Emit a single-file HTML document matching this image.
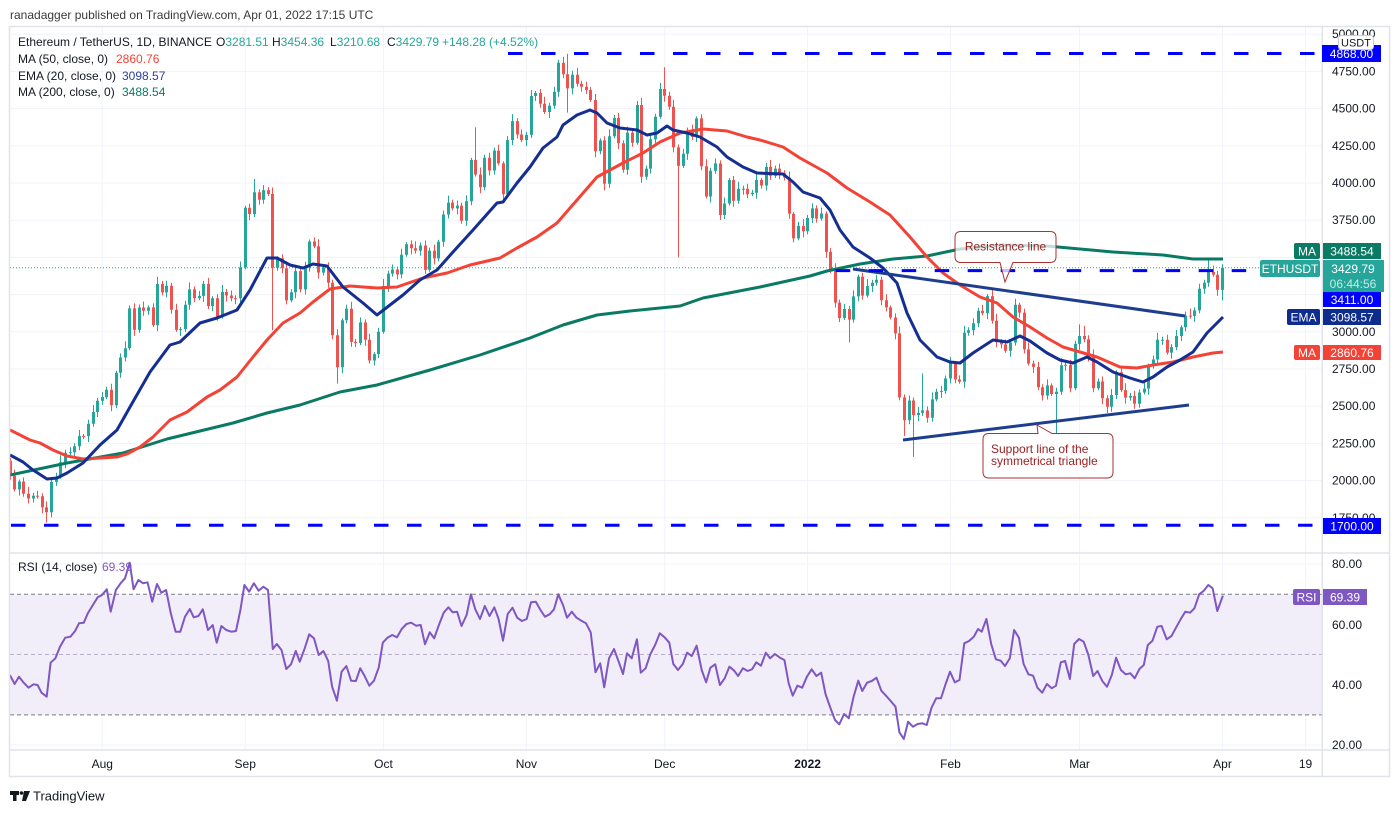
<!DOCTYPE html>
<html><head><meta charset="utf-8"><title>ETHUSDT</title>
<style>html,body{margin:0;padding:0;background:#fff;overflow:hidden}svg{display:block}</style>
</head><body>
<svg xmlns="http://www.w3.org/2000/svg" width="1400" height="813" viewBox="0 0 1400 813" font-family="'Liberation Sans', Arial, sans-serif">
<defs>
<clipPath id="cm"><rect x="10" y="27" width="1312" height="526"/></clipPath>
<clipPath id="cr"><rect x="10" y="554" width="1312" height="196"/></clipPath>
</defs>
<rect width="1400" height="813" fill="#fff"/>
<text x="10" y="19" font-size="12" fill="#3a3a3a">ranadagger published on TradingView.com, Apr 01, 2022 17:15 UTC</text>

<!-- grid -->
<g stroke="#f0f3fa" stroke-width="1">
<line x1="10" x2="1322" y1="34.2" y2="34.2"/><line x1="10" x2="1322" y1="71.4" y2="71.4"/>
<line x1="10" x2="1322" y1="108.6" y2="108.6"/><line x1="10" x2="1322" y1="145.8" y2="145.8"/>
<line x1="10" x2="1322" y1="183" y2="183"/><line x1="10" x2="1322" y1="220.2" y2="220.2"/>
<line x1="10" x2="1322" y1="257.4" y2="257.4"/><line x1="10" x2="1322" y1="294.6" y2="294.6"/>
<line x1="10" x2="1322" y1="331.8" y2="331.8"/><line x1="10" x2="1322" y1="369" y2="369"/>
<line x1="10" x2="1322" y1="406.2" y2="406.2"/><line x1="10" x2="1322" y1="443.4" y2="443.4"/>
<line x1="10" x2="1322" y1="480.6" y2="480.6"/><line x1="10" x2="1322" y1="517.8" y2="517.8"/>
<line x1="10" x2="1322" y1="564" y2="564"/><line x1="10" x2="1322" y1="624.4" y2="624.4"/>
<line x1="10" x2="1322" y1="684.7" y2="684.7"/><line x1="10" x2="1322" y1="745" y2="745"/>
<line x1="102.3" x2="102.3" y1="27" y2="750"/><line x1="245.2" x2="245.2" y1="27" y2="750"/>
<line x1="383.5" x2="383.5" y1="27" y2="750"/><line x1="526.4" x2="526.4" y1="27" y2="750"/>
<line x1="664.7" x2="664.7" y1="27" y2="750"/><line x1="807.6" x2="807.6" y1="27" y2="750"/>
<line x1="950.5" x2="950.5" y1="27" y2="750"/><line x1="1079.6" x2="1079.6" y1="27" y2="750"/>
<line x1="1222.5" x2="1222.5" y1="27" y2="750"/><line x1="1305.5" x2="1305.5" y1="27" y2="750"/>
</g>

<!-- RSI pane -->
<g clip-path="url(#cr)">
<rect x="10" y="594.3" width="1312" height="120.6" fill="#f2eef9"/>
<line x1="10" x2="1322" y1="594.3" y2="594.3" stroke="#787b86" stroke-dasharray="4 3"/>
<line x1="10" x2="1322" y1="654.5" y2="654.5" stroke="#b8b0c8" stroke-dasharray="4 3"/>
<line x1="10" x2="1322" y1="714.9" y2="714.9" stroke="#787b86" stroke-dasharray="4 3"/>
<polyline fill="none" stroke="#7e57c2" stroke-width="2" stroke-linejoin="round" points="9.9,675 14.6,684 19,676.7 23.7,682.7 28.5,687.7 33.6,684.3 37.6,685 41.5,692.7 46.7,696.7 50.6,662.7 55.4,658.3 60,646.7 65.2,637.7 70.4,636.7 75.1,631 79,623.3 83.8,622.7 87.8,613.3 92.9,605 97.7,597.3 102,595 106.8,589.3 110.7,611.7 115.9,590 120.6,583.3 125,578.3 129.7,562.7 133.6,589.3 138.4,580 143.1,583.3 147.5,582.3 152.2,601.7 157,584 161.3,592.7 166.1,590 170.8,613.3 175.6,631.7 180.3,631.7 185,616.7 189.8,609 193.7,617.3 198.5,616 202.8,609.3 208,630 212.7,625 216.7,642.7 221.4,626 226.2,630 231.3,631.7 236,631 240.4,610 244.4,585 249.1,591.7 253.9,583.3 258.6,590.7 263.3,586.7 268,590 272.8,649 276.8,644 281.5,650 286.3,669 291,664.3 295.8,651 299.7,661.7 304.5,649 309.2,634.3 314,638.3 318.7,655 323.4,651 328.2,661 332.1,686.7 336.9,700.7 341.6,671.7 346.4,666 351.1,680.7 355.9,681 360.2,668.3 364.6,676 369.3,685.7 374,680.7 378.8,667.3 382.8,642.7 387.5,637.7 392.2,635 397,637.3 401.7,629 406.5,624 411.2,622.7 416,625.7 420.7,625 425,644.3 429.8,632.3 434.2,638.3 438.9,625 443.7,612.7 448.4,607.3 452.7,612.3 457.1,611.7 461.5,626 466.6,615 470.9,594.3 475.3,609.3 480,619 484.8,606 489.5,616 494.3,607.3 498.6,619 503,640.7 507.7,614 512.5,607.7 517.2,617.7 521.9,621 526.7,619 531,602.3 535.8,601.7 540.5,610 544.9,616.7 549.6,614.3 554,609.3 558.3,594.3 563,605 567,617.7 571.8,611.7 576.5,617.7 581.3,620.7 586,623.3 590.7,632.3 595.5,672.3 600.2,663.3 604.2,687.3 609,658.3 614,649 618.7,661.7 623,674 627,653.3 631.7,658.3 636.9,639.3 640.8,672.7 645.6,668.3 650.3,654.3 655.1,645 659.8,633.3 664.6,637.3 669.3,642.7 673.3,664 678,670 682.8,664 687.1,652.7 691.8,656 696.6,645.7 701.7,670 706.1,682.3 710.4,667.7 715.2,664.3 719.9,685 724.7,678.3 729.4,666.7 734.2,670.7 738.1,676 742.9,668.3 747.6,671 752,669.3 756.3,662.3 761,665.7 765.8,652.7 770.1,658.3 774.9,654 780,657.7 784.4,660 788.7,683.3 792.7,695.7 797.4,685.7 802.2,687.7 806.9,676.7 811.7,669.3 816.4,676 821.2,672.7 825.5,694 830.2,707.3 835,720 839.3,724.3 844.1,714 848.8,718.3 853.6,696.7 858.3,680.7 862.3,691 867,682.7 871.8,681 876.5,677.7 881.3,690.7 886,695.7 890.7,701 895.5,706.7 899.4,732.3 903.8,739 908.1,721.7 912.9,726.7 917.6,724 922.4,723.3 926.7,725 931.5,707.7 936.2,698.3 941,698.3 945.3,685 950,671.7 954.8,682.3 959.5,680 964.3,643.3 969,641 973.8,636.7 978.1,629 981.7,631.7 986.4,619 991.2,644 995.9,659.3 1000.7,660.7 1005,666 1009.8,658.3 1014.1,630 1018.9,637.7 1023.6,664 1028.4,674.3 1033.1,675.7 1037.4,687.7 1042.2,692.7 1046.9,684 1051.7,688.3 1056,685.7 1060.8,662.3 1065.1,661 1069.9,679 1074.2,644 1079,639 1083.7,641.7 1088.4,655 1093.2,676 1097.5,671 1102.3,681 1107,686.7 1111.8,675 1116.1,657.7 1120.9,670 1125.6,674.3 1130.4,673.3 1134.7,678.3 1139.4,669 1143.8,665 1147.8,645 1152.5,640.7 1157.3,626.7 1161.6,626 1166.7,639.3 1171.5,636 1176.2,627.3 1180.6,619.3 1185.3,611.7 1190.1,612.7 1194.4,608.3 1199.2,594.3 1203.9,590.7 1208.3,585 1212.6,588.3 1217.3,611 1222.9,595.7"/>
</g>

<!-- main pane -->
<g clip-path="url(#cm)">
<line x1="10" x2="1262" y1="267.8" y2="267.8" stroke="#26a69a" stroke-width="1" stroke-dasharray="1 2"/>

<!-- green candles -->
<path fill="none" stroke="#26a69a" stroke-width="1" d="M19.5 479.5V495.5M33.5 492.8V502.5M51.5 479.9V517.3M56.5 472.7V485.9M60.5 455.3V478.7M65.5 449.8V468.3M70.5 447.2V456.2M74.5 443.2V457.2M79.5 430V450.2M88.5 419.8V442.1M93.5 405V426.8M97.5 397.7V417M102.5 392.1V404.7M106.5 386.8V399.1M116.5 370.7V408.2M120.5 353.5V377.7M125.5 341.2V361.5M129.5 305.4V350.2M139.5 304.5V332.9M148.5 305.4V314.7M157.5 276.9V331.1M166.5 280.7V297.4M180.5 327V336M185.5 300.7V332M189.5 282.4V309.7M199.5 290.9V300.3M203.5 280.9V301.9M212.5 296.3V311.1M222.5 284.9V318.8M240.5 261.4V302.3M245.5 205.7V269.4M254.5 179V217.1M263.5 185.1V203.8M277.5 256.3V270.7M291.5 289.2V302.4M295.5 266.1V298.2M305.5 261.8V294.4M309.5 239.5V271.8M323.5 264.4V275.6M342.5 318.3V373.2M346.5 304.7V323.3M360.5 317.4V345M374.5 352.1V365.5M378.5 327.7V358.1M383.5 279V333.7M388.5 270.6V292M392.5 264.5V276.6M401.5 248.7V278.4M406.5 242.3V256.7M420.5 242.5V255.6M429.5 247.6V271.9M438.5 239.8V261.4M443.5 210.5V246.8M448.5 195.6V218.5M457.5 200.6V214.4M466.5 195.2V225.8M471.5 157.9V205.2M484.5 154.7V190.3M494.5 147.6V174.5M507.5 136.1V197.3M512.5 114.1V145.1M526.5 131.9V146.1M531.5 90V137.9M535.5 91V101M549.5 102.8V118M554.5 86.8V108.8M558.5 59.8V96.8M572.5 70.8V94.4M600.5 138.4V154.2M609.5 129.3V187.7M614.5 115V138.3M627.5 126.6V174.8M637.5 101V144.7M646.5 165.6V179.8M650.5 134.2V173.6M655.5 113.8V143.2M660.5 83V118.8M683.5 148.8V167.9M687.5 127.6V159.8M696.5 116.4V142M710.5 167.8V202.5M715.5 158.4V173.8M724.5 197.5V219M729.5 178V205.5M738.5 181.8V203.7M743.5 185.7V194.7M752.5 189.8V196.3M756.5 173.9V198.8M766.5 162.9V190.5M775.5 165.6V177.9M798.5 221.9V240.4M807.5 215V234.2M812.5 203.4V223M821.5 207.5V220.6M844.5 304V320.1M853.5 290.4V322.6M858.5 274.6V301.4M867.5 279.1V297.6M872.5 279.7V292.1M876.5 274.7V285.7M909.5 395.5V424.3M918.5 406.9V421.1M922.5 373.5V415.9M932.5 392.4V421.7M936.5 388.8V401.4M941.5 385.9V397.9M945.5 375.5V393.9M950.5 356.9V383.5M964.5 325.7V387.8M968.5 327.2V335.7M973.5 318.2V335.2M978.5 307.7V327.2M987.5 294.1V319.3M1010.5 339.5V356.7M1015.5 298.7V345.5M1047.5 379.4V399.5M1056.5 387.8V436M1061.5 358.3V394.8M1065.5 361.8V370.8M1075.5 340.9V390.3M1079.5 324.4V349.9M1098.5 378.5V390.3M1111.5 389V411.8M1116.5 370.3V399M1130.5 392.9V400.6M1139.5 389.5V407.7M1144.5 382.6V394.5M1148.5 363.6V394.6M1153.5 355.5V368.6M1157.5 332.8V364.5M1162.5 336.8V344.8M1171.5 344.1V358.6M1176.5 330V350.1M1181.5 325.2V341M1185.5 311.6V331.2M1194.5 307.4V321.9M1199.5 283.8V313.4M1204.5 279.8V293.8M1208.5 260.1V286.8M1222.5 264.2V300.4"/>
<path fill="none" stroke="#26a69a" stroke-width="3" d="M19.5 481.5V489.5M33.5 495.8V498.5M51.5 481.9V512.3M56.5 476.7V481.9M60.5 462.3V476.7M65.5 452.8V462.3M70.5 452.2V453.2M74.5 446.2V452.2M79.5 436V446.2M88.5 423.8V436.1M93.5 412V423.8M97.5 400.7V412M102.5 397.1V400.7M106.5 389.8V397.1M116.5 372.7V405.2M120.5 357.5V372.7M125.5 348.2V357.5M129.5 308.4V348.2M139.5 307.5V329.9M148.5 307.4V310.7M157.5 283.9V325.1M166.5 285.7V292.4M180.5 329V330M185.5 304.7V329M189.5 289.4V304.7M199.5 295.9V298.3M203.5 283.9V295.9M212.5 298.3V306.1M222.5 291.9V316.8M240.5 267.4V298.3M245.5 207.7V267.4M254.5 192.2V214.1M263.5 190.1V199.8M277.5 258.3V267.7M291.5 292.2V300.4M295.5 271.1V292.2M305.5 267.8V289.4M309.5 241.5V267.8M323.5 267.4V272.6M342.5 320.3V367.2M346.5 308.7V320.3M360.5 322.4V343M374.5 354.1V360.5M378.5 331.7V354.1M383.5 286V331.7M388.5 273.6V286M392.5 269.5V273.6M401.5 254.7V274.4M406.5 244.3V254.7M420.5 245.5V250.6M429.5 250.6V269.9M438.5 241.8V258.4M443.5 214.5V241.8M448.5 202.6V214.5M457.5 205.6V208.4M466.5 201.2V220.8M471.5 159.9V201.2M484.5 157.7V187.3M494.5 150.6V170.5M507.5 140.1V194.3M512.5 121.1V140.1M526.5 134.9V140.1M531.5 96V134.9M535.5 93V96M549.5 105.8V112M554.5 91.8V105.8M558.5 62.8V91.8M572.5 74.8V88.4M600.5 140.4V151.2M609.5 136.3V183.7M614.5 118V136.3M627.5 132.6V169.8M637.5 105V142.7M646.5 168.6V176.8M650.5 139.2V168.6M655.5 116.8V139.2M660.5 89V116.8M683.5 153.8V165.9M687.5 130.6V153.8M696.5 118.4V137M710.5 170.8V196.5M715.5 163.4V170.8M724.5 203.5V215M729.5 180V203.5M738.5 188.8V200.7M743.5 188.7V189.7M752.5 192.8V194.3M756.5 179.9V192.8M766.5 166.9V185.5M775.5 168.6V175.9M798.5 225.9V238.4M807.5 218V231.2M812.5 208.4V218M821.5 213.5V218.6M844.5 309V318.1M853.5 296.4V319.6M858.5 276.6V296.4M867.5 286.1V295.6M872.5 282.7V286.1M876.5 279.7V282.7M909.5 400.5V420.3M918.5 412.9V415.1M922.5 410.4V412.9M932.5 399.4V417.7M936.5 391.8V399.4M941.5 390.9V391.9M945.5 378.5V390.9M950.5 362.9V378.5M964.5 332.7V381.8M968.5 330.2V332.7M973.5 323.2V330.2M978.5 310.7V323.2M987.5 296.1V313.3M1010.5 342.5V350.7M1015.5 304.7V342.5M1047.5 385.4V395.5M1056.5 391.8V394M1061.5 365.3V391.8M1065.5 364.8V365.8M1075.5 343.9V388.3M1079.5 336V343.9M1098.5 381.5V388.3M1111.5 395V406.8M1116.5 372.3V395M1130.5 395.9V397.6M1139.5 392.5V403.7M1144.5 388.6V392.5M1148.5 365.6V388.6M1153.5 359.5V365.6M1157.5 339.8V359.5M1162.5 339.8V340.8M1171.5 347.1V352.6M1176.5 336V347.1M1181.5 327.2V336M1185.5 315.6V327.2M1194.5 310.4V315.9M1199.5 288.8V310.4M1204.5 282.8V288.8M1208.5 272V282.8M1222.5 267.8V289.9"/>

<!-- red candles -->
<path fill="none" stroke="#ef5350" stroke-width="1" d="M10.5 457.7V479.8M14.5 469.8V491.5M23.5 477.5V496.7M28.5 486.7V503.5M37.5 490.8V498.8M42.5 493.2V513.4M46.5 501.4V522.6M83.5 434V439M111.5 383.8V411.2M134.5 303.4V335.9M143.5 301.5V315.7M153.5 303.4V327.1M162.5 280.9V295.4M171.5 282.7V313.8M176.5 303.8V331.9M194.5 286.4V302.3M208.5 277.9V309.1M217.5 294.3V320.8M226.5 288.9V301.5M231.5 290.5V301.2M235.5 295.2V304.2M249.5 203.7V220.1M259.5 189.2V204.8M268.5 187.1V195.9M272.5 187.5V330.3M282.5 254.3V273.3M286.5 261.3V304.4M300.5 268.1V292.4M314.5 237.5V248.2M318.5 239.2V278.6M328.5 262.4V287.7M332.5 279.7V339.2M337.5 329.2V383.6M351.5 301.7V346.9M355.5 338.9V347M365.5 319.4V345.7M369.5 333.7V363.5M397.5 266.5V279.4M411.5 240.3V254.3M415.5 241.3V253.6M425.5 240.5V273.9M434.5 244.6V264.4M452.5 199.6V210.4M461.5 202.6V223.8M475.5 127.2V176.5M480.5 167.5V193.3M489.5 152.7V175.5M498.5 144.6V165.4M503.5 161.4V200.3M517.5 118.1V138.5M521.5 129.5V142.1M540.5 89V107.7M544.5 96.7V114M563.5 56.8V78.2M567.5 53.8V112.6M577.5 67.8V86.8M581.5 80.8V91.7M586.5 81.7V94M590.5 87V102M595.5 94V157.2M604.5 136.4V190.4M618.5 113V149.3M623.5 140.3V172.8M632.5 130.6V146.7M641.5 98V182.8M664.5 67.2V101.7M669.5 91.7V109.7M673.5 99.7V152.4M678.5 144.4V257.4M692.5 124.6V140M701.5 114.4V170.3M706.5 159.3V198.5M720.5 160.4V220M733.5 176V206.7M747.5 183.7V198.3M761.5 177.9V188.5M770.5 159.9V179.9M779.5 163.6V179.3M784.5 170.3V180.5M789.5 171.5V218.8M793.5 211.8V242.4M803.5 218.9V237.2M816.5 205.4V222.6M826.5 211.5V257.9M830.5 247.9V273.2M835.5 263.2V307.6M839.5 299.6V322.1M849.5 306V342.5M862.5 272.6V299.6M881.5 276.7V305.3M886.5 294.3V311.4M890.5 305.4V319.5M895.5 313.5V339.4M899.5 326.4V400.4M904.5 394.4V436M913.5 397.5V456.9M927.5 406.4V422.7M955.5 360.9V383.4M959.5 375.4V383.8M982.5 304.7V315.3M992.5 290.1V323.8M996.5 313.8V347.1M1001.5 339.1V348.4M1005.5 339.4V352.7M1019.5 302.7V317.6M1024.5 308.6V353.4M1028.5 342.4V365.6M1033.5 360.6V372.9M1038.5 361.9V390.2M1042.5 384.2V400.5M1051.5 383.4V396M1070.5 359.8V392.3M1084.5 326V342.2M1088.5 335.2V361.5M1093.5 349.5V392.3M1102.5 376.5V404.2M1107.5 395.2V413M1121.5 368.3V392.1M1125.5 383.1V403.6M1134.5 390.9V408.7M1167.5 334.8V354.6M1190.5 308.6V318.6M1213.5 265.6V276.7M1217.5 270.7V295.8"/>
<path fill="none" stroke="#ef5350" stroke-width="3" d="M10.5 460.7V475.8M14.5 475.8V489.5M23.5 481.5V493.7M28.5 493.7V498.5M37.5 495.8V496.8M42.5 496.2V507.4M46.5 507.4V512.3M83.5 436V437M111.5 389.8V405.2M134.5 308.4V329.9M143.5 307.5V310.7M153.5 307.4V325.1M162.5 283.9V292.4M171.5 285.7V309.8M176.5 309.8V329.9M194.5 289.4V298.3M208.5 283.9V306.1M217.5 298.3V316.8M226.5 291.9V295.5M231.5 295.5V298.2M235.5 298.2V299.2M249.5 207.7V214.1M259.5 192.2V199.8M268.5 190.1V193.9M272.5 193.9V267.7M282.5 258.3V268.3M286.5 268.3V300.4M300.5 271.1V289.4M314.5 241.5V246.2M318.5 246.2V272.6M328.5 267.4V282.7M332.5 282.7V335.2M337.5 335.2V367.2M351.5 308.7V341.9M355.5 341.9V343M365.5 322.4V339.7M369.5 339.7V360.5M397.5 269.5V274.4M411.5 244.3V248.3M415.5 248.3V250.6M425.5 245.5V269.9M434.5 250.6V258.4M452.5 202.6V208.4M461.5 205.6V220.8M475.5 159.9V174.5M480.5 174.5V187.3M489.5 157.7V170.5M498.5 150.6V163.4M503.5 163.4V194.3M517.5 121.1V134.5M521.5 134.5V140.1M540.5 93V103.7M544.5 103.7V112M563.5 62.8V74.2M567.5 74.2V88.4M577.5 74.8V83.8M581.5 83.8V86.7M586.5 86.7V90M590.5 90V100M595.5 100V151.2M604.5 140.4V183.7M618.5 118V143.3M623.5 143.3V169.8M632.5 132.6V142.7M641.5 105V176.8M664.5 89V95.7M669.5 95.7V106.7M673.5 106.7V147.4M678.5 147.4V165.9M692.5 130.6V137M701.5 118.4V166.3M706.5 166.3V196.5M720.5 163.4V215M733.5 180V200.7M747.5 188.7V194.3M761.5 179.9V185.5M770.5 166.9V175.9M779.5 168.6V173.3M784.5 173.3V177.5M789.5 177.5V213.8M793.5 213.8V238.4M803.5 225.9V231.2M816.5 208.4V218.6M826.5 213.5V251.9M830.5 251.9V270.2M835.5 270.2V302.6M839.5 302.6V318.1M849.5 309V319.6M862.5 276.6V295.6M881.5 279.7V300.3M886.5 300.3V307.4M890.5 307.4V317.5M895.5 317.5V333.4M899.5 333.4V397.4M904.5 397.4V420.3M913.5 400.5V415.1M927.5 410.4V417.7M955.5 362.9V379.4M959.5 379.4V381.8M982.5 310.7V313.3M992.5 296.1V320.8M996.5 320.8V342.1M1001.5 342.1V344.4M1005.5 344.4V350.7M1019.5 304.7V312.6M1024.5 312.6V349.4M1028.5 349.4V363.6M1033.5 363.6V366.9M1038.5 366.9V387.2M1042.5 387.2V395.5M1051.5 385.4V394M1070.5 364.8V388.3M1084.5 336V339.2M1088.5 339.2V356.5M1093.5 356.5V388.3M1102.5 381.5V398.2M1107.5 398.2V406.8M1121.5 372.3V390.1M1125.5 390.1V397.6M1134.5 395.9V403.7M1167.5 339.8V352.6M1190.5 315.6V316.6M1213.5 272V274.7M1217.5 274.7V289.8"/>

<polyline fill="none" stroke="#0b7a65" stroke-width="3" stroke-linejoin="round" points="10,475 67,463 123,453 167,439 233,423 267,413 300,405 340,392 377,385 430,370 480,355 530,338 563,325 597,315 630,311 680,306 703,298 760,287 810,276 827,271 860,264 893,259 927,256 960,249 1000,245 1047,246 1113,252 1163,255 1193,259 1223,259"/>
<polyline fill="none" stroke="#f44336" stroke-width="3" stroke-linejoin="round" points="10,430 30,440 40,443 53,450 67,456 83,459 100,458 117,457 127,454 140,447 153,437 170,420 187,412 207,397 220,390 237,377 253,357 267,340 283,323 300,313 313,302 330,289 350,286 377,288 397,287 423,278 447,273 470,265 500,258 517,248 537,237 557,223 577,200 597,177 623,163 643,153 660,142 680,133 703,129 727,131 747,137 760,140 783,147 800,158 827,173 847,188 870,202 890,215 910,237 927,257 943,273 960,285 980,297 997,303 1013,317 1030,327 1047,338 1063,347 1080,352 1097,357 1120,367 1137,368 1153,365 1173,362 1193,357 1213,353 1223,352"/>
<polyline fill="none" stroke="#142e91" stroke-width="3" stroke-linejoin="round" points="10,455 23,462 33,470 47,479 57,478 67,473 83,463 100,445 117,430 130,407 150,372 170,345 180,342 200,323 217,318 237,310 250,290 267,258 277,258 290,265 303,268 313,264 327,266 343,287 363,303 377,315 390,305 403,295 420,280 437,270 453,252 473,230 497,203 503,202 517,183 530,167 543,148 557,137 563,125 577,115 590,110 597,113 607,123 620,128 637,130 647,135 657,133 667,126 673,130 687,133 700,137 717,147 727,157 743,167 757,173 783,174 793,182 803,192 820,198 830,210 840,230 853,247 870,258 883,268 897,283 907,313 920,340 937,357 950,362 960,363 973,353 993,340 1007,342 1020,336 1030,341 1047,353 1060,360 1073,363 1087,357 1097,362 1113,372 1130,378 1143,382 1153,377 1167,367 1180,360 1193,352 1207,333 1223,317"/>
<line x1="853" y1="269" x2="1185" y2="316" stroke="#1d3d8f" stroke-width="3"/>
<line x1="903" y1="440" x2="1189" y2="405" stroke="#1d3d8f" stroke-width="3"/>
<line x1="508" x2="1322" y1="53.5" y2="53.5" stroke="#0000ff" stroke-width="3" stroke-dasharray="14.5 18.5"/>
<line x1="835.7" x2="1262" y1="270.6" y2="270.6" stroke="#0000ff" stroke-width="3" stroke-dasharray="14.5 18.5"/>
<line x1="11" x2="1322" y1="525.2" y2="525.2" stroke="#0000ff" stroke-width="3" stroke-dasharray="14.5 18.5"/>
<!-- callouts -->
<path d="M961,231.5 H1050 Q1056,231.5 1056,237.5 V256.5 Q1056,262.5 1050,262.5 H1013 L1005,282 L1000,262.5 H961 Q955,262.5 955,256.5 V237.5 Q955,231.5 961,231.5 Z" fill="#fff" fill-opacity="0.75" stroke="#a83232" stroke-width="1"/>
<text x="1005.5" y="250.5" font-size="12" fill="#9a2121" text-anchor="middle">Resistance line</text>
<path d="M989,433.5 H1038 L1037,425 L1052,433.5 H1107 Q1113,433.5 1113,439.5 V472 Q1113,478 1107,478 H989 Q983,478 983,472 V439.5 Q983,433.5 989,433.5 Z" fill="#fff" stroke="#a83232" stroke-width="1"/>
<text x="991" y="453" font-size="12" fill="#9a2121">Support line of the</text>
<text x="991" y="465" font-size="12" fill="#9a2121">symmetrical triangle</text>
</g>

<!-- frame / separators -->
<rect x="9.5" y="26.5" width="1380" height="750" fill="none" stroke="#e0e3eb" stroke-width="1.5"/>
<line x1="1322.3" x2="1322.3" y1="27" y2="777" stroke="#e0e3eb" stroke-width="1.5"/>
<line x1="10" x2="1390" y1="553" y2="553" stroke="#e0e3eb" stroke-width="1.5"/>
<line x1="10" x2="1390" y1="750" y2="750" stroke="#e0e3eb" stroke-width="1.5"/>

<!-- legends -->
<g font-size="12" fill="#131722">
<text x="18" y="46">Ethereum / TetherUS, 1D, BINANCE</text>
<text x="216" y="46">O<tspan fill="#26a69a">3281.51</tspan></text>
<text x="272" y="46">H<tspan fill="#26a69a">3454.36</tspan></text>
<text x="330" y="46">L<tspan fill="#26a69a">3210.68</tspan></text>
<text x="387" y="46">C<tspan fill="#26a69a">3429.79</tspan></text>
<text x="442" y="46" fill="#26a69a">+148.28 (+4.52%)</text>
<text x="18" y="63">MA (50, close, 0)</text><text x="116" y="63" fill="#f44336">2860.76</text>
<text x="18" y="80">EMA (20, close, 0)</text><text x="122" y="80" fill="#2a3f9e">3098.57</text>
<text x="18" y="96">MA (200, close, 0)</text><text x="122" y="96" fill="#0b7a65">3488.54</text>
<text x="18" y="571">RSI (14, close)</text><text x="102" y="571" fill="#7e57c2">69.39</text>
</g>

<!-- price axis -->
<g font-size="12" fill="#131722">
<text x="1332" y="38">5000.00</text>
<text x="1332" y="75.5">4750.00</text>
<text x="1332" y="112.5">4500.00</text>
<text x="1332" y="150">4250.00</text>
<text x="1332" y="187">4000.00</text>
<text x="1332" y="224">3750.00</text>
<text x="1332" y="336">3000.00</text>
<text x="1332" y="373">2750.00</text>
<text x="1332" y="410">2500.00</text>
<text x="1332" y="447.5">2250.00</text>
<text x="1332" y="484.5">2000.00</text>
<text x="1332" y="522">1750.00</text>
<text x="1332" y="568">80.00</text>
<text x="1332" y="629">60.00</text>
<text x="1332" y="689">40.00</text>
<text x="1332" y="749">20.00</text>
</g>
<rect x="1322" y="45" width="59" height="17" fill="#0000ff"/>
<text x="1351.5" y="58" font-size="12" fill="#fff" text-anchor="middle">4868.00</text>
<rect x="1338.5" y="35.5" width="35" height="14" rx="3" fill="#fff" stroke="#c9ccd4"/>
<text x="1356" y="46.5" font-size="11" fill="#131722" text-anchor="middle">USDT</text>

<rect x="1294" y="243" width="26" height="16" rx="2" fill="#0b7a65"/>
<text x="1307" y="255.5" font-size="12" fill="#fff" text-anchor="middle">MA</text>
<rect x="1323" y="243" width="58" height="16" fill="#0b7a65"/>
<text x="1352" y="255.5" font-size="12" fill="#fff" text-anchor="middle">3488.54</text>

<rect x="1260" y="260" width="60" height="17" rx="2" fill="#26a69a"/>
<text x="1290" y="273" font-size="12" fill="#fff" text-anchor="middle">ETHUSDT</text>
<rect x="1323" y="260" width="61" height="32" fill="#26a69a"/>
<text x="1353" y="273" font-size="12" fill="#fff" text-anchor="middle">3429.79</text>
<text x="1353" y="288" font-size="12" fill="#c4ece7" text-anchor="middle">06:44:56</text>

<rect x="1323" y="292" width="58" height="15" fill="#0000ff"/>
<text x="1352" y="304" font-size="12" fill="#fff" text-anchor="middle">3411.00</text>

<rect x="1287" y="309" width="33" height="16" rx="2" fill="#0d2c8d"/>
<text x="1303.5" y="321.5" font-size="12" fill="#fff" text-anchor="middle">EMA</text>
<rect x="1323" y="309" width="58" height="16" fill="#0d2c8d"/>
<text x="1352" y="321.5" font-size="12" fill="#fff" text-anchor="middle">3098.57</text>

<rect x="1294" y="345" width="26" height="15" rx="2" fill="#f44336"/>
<text x="1307" y="357" font-size="12" fill="#fff" text-anchor="middle">MA</text>
<rect x="1323" y="345" width="58" height="15" fill="#f44336"/>
<text x="1352" y="357" font-size="12" fill="#fff" text-anchor="middle">2860.76</text>

<rect x="1323" y="518" width="58" height="16" fill="#0000ff"/>
<text x="1352" y="530.5" font-size="12" fill="#fff" text-anchor="middle">1700.00</text>

<rect x="1293" y="589" width="27" height="16" rx="2" fill="#7e57c2"/>
<text x="1306.5" y="601.5" font-size="12" fill="#fff" text-anchor="middle">RSI</text>
<rect x="1323" y="589" width="44" height="16" fill="#7e57c2"/>
<text x="1345" y="601.5" font-size="12" fill="#fff" text-anchor="middle">69.39</text>

<!-- time axis -->
<g font-size="12" fill="#131722" text-anchor="middle">
<text x="102.3" y="768">Aug</text>
<text x="245.2" y="768">Sep</text>
<text x="383.5" y="768">Oct</text>
<text x="526.4" y="768">Nov</text>
<text x="664.7" y="768">Dec</text>
<text x="807.6" y="768" font-weight="bold">2022</text>
<text x="950.5" y="768">Feb</text>
<text x="1079.6" y="768">Mar</text>
<text x="1222.5" y="768">Apr</text>
<text x="1305.5" y="768">19</text>
</g>

<!-- footer -->
<path d="M10,791 H19 V795 H16.5 V801 H13 V795 H10 Z" fill="#131722"/>
<circle cx="21.5" cy="793" r="1.8" fill="#131722"/>
<path d="M24,791 H30 L26,801 H22 Z" fill="#131722"/>
<text x="33" y="800.5" font-size="13" fill="#131722">TradingView</text>
</svg>
</body></html>
